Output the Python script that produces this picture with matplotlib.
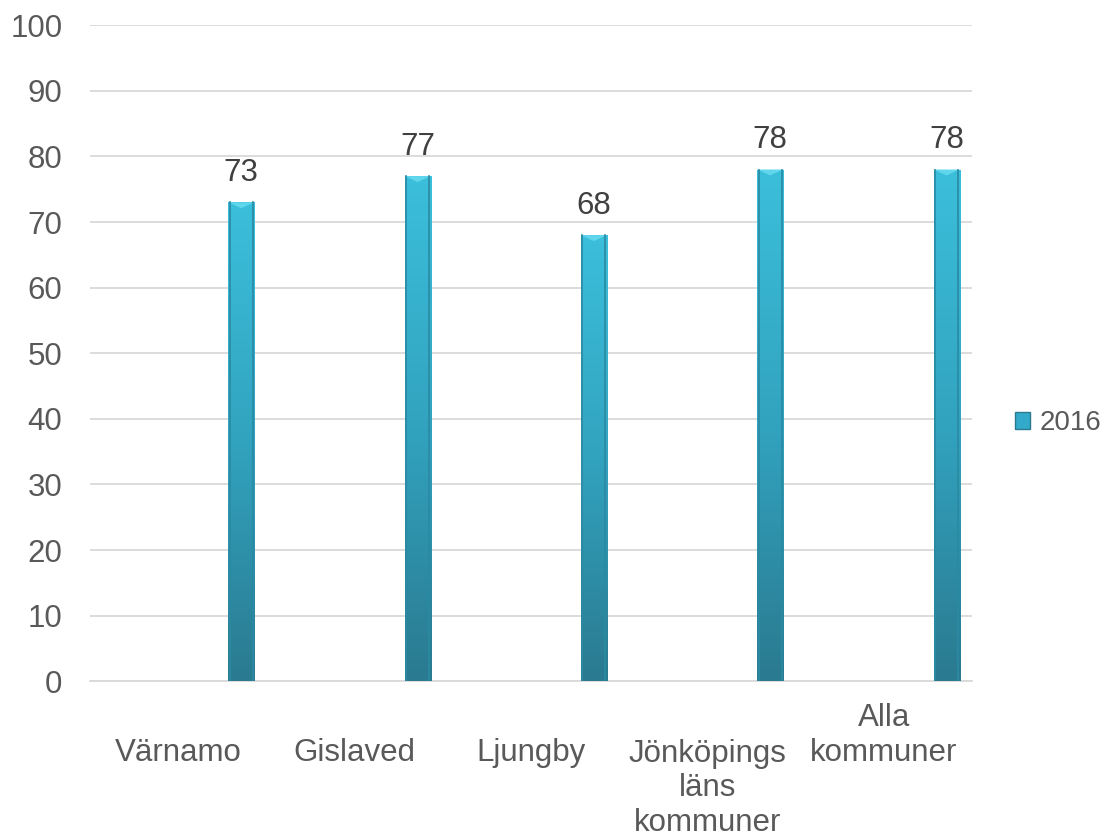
import numpy as np
import matplotlib.pyplot as plt
import matplotlib.colors as mcolors
from matplotlib.patches import Patch, Polygon
from matplotlib.transforms import blended_transform_factory

plt.rcParams['font.family'] = ['Liberation Sans', 'DejaVu Sans']

categories = ['Värnamo', 'Gislaved', 'Ljungby', 'Jönköpings\nläns\nkommuner', 'Alla\nkommuner']
values_2016 = [73, 77, 68, 78, 78]
series_name = '2016'

fig = plt.figure(figsize=(11.12, 8.4), dpi=100)
ax = fig.add_axes([0.081, 0.189, 0.793, 0.781])

x = np.arange(len(categories))
offset = 0.357
width = 0.148
fs = 22.5

cmap = mcolors.LinearSegmentedColormap.from_list('bar', ['#2a7a90', '#32a3bf', '#3bbfdb'])
grad = np.linspace(0, 1, 256).reshape(-1, 1)

bars = ax.bar(x + offset, values_2016, width, color='#33aacb', zorder=3, linewidth=0)
for b, v in zip(bars, values_2016):
    x0, w = b.get_x(), b.get_width()
    im = ax.imshow(grad, cmap=cmap, origin='lower', aspect='auto',
                   extent=(x0, x0 + w, 0, v), zorder=3.5)
    im.set_clip_path(b)
    # lighter bevel on the top
    tri = Polygon([[x0, v], [x0 + w, v], [x0 + w / 2, v - 0.9]], closed=True,
                  facecolor='#5fd6ec', edgecolor='none', zorder=4)
    ax.add_patch(tri)
    # darker side edges
    ax.plot([x0 + w * 0.06, x0 + w * 0.06], [0, v], color='#2a8aa3', lw=1.2, zorder=4)
    ax.plot([x0 + w * 0.94, x0 + w * 0.94], [0, v], color='#2a8aa3', lw=1.2, zorder=4)
    ax.text(x0 + w / 2, v + 4.5, str(v), ha='center', va='center',
            fontsize=fs, color='#404040', zorder=5)

ax.set_xlim(-0.5, len(categories) - 0.5)
ax.set_ylim(0, 100)
ax.set_yticks(range(0, 101, 10))
ax.tick_params(axis='y', length=0, labelsize=fs, labelcolor='#595959', pad=20)
ax.set_xticks([])
ax.yaxis.grid(True, color='#d9d9d9', lw=1.3, zorder=0)
ax.set_axisbelow(True)
for s in ['top', 'right', 'left']:
    ax.spines[s].set_visible(False)
ax.spines['bottom'].set_color('#d9d9d9')
ax.spines['bottom'].set_linewidth(1.3)

# category labels, Excel-like placement
trans = blended_transform_factory(ax.transData, ax.transAxes)
label_y = [-0.110, -0.110, -0.110, -0.163, -0.083]
for xi, lab, ly in zip(x, categories, label_y):
    ax.text(xi, ly, lab, transform=trans, ha='center', va='center',
            fontsize=fs, color='#595959', linespacing=1.2)

handle = Patch(facecolor='#33aacb', edgecolor='#2a7a90')
fig.legend([handle], [series_name], loc='center left', bbox_to_anchor=(0.913, 0.496),
           frameon=False, fontsize=20, handlelength=0.54, handleheight=0.54,
           handletextpad=0.32, borderpad=0, borderaxespad=0, labelcolor='#595959')

fig.savefig('out.png', dpi=100)
